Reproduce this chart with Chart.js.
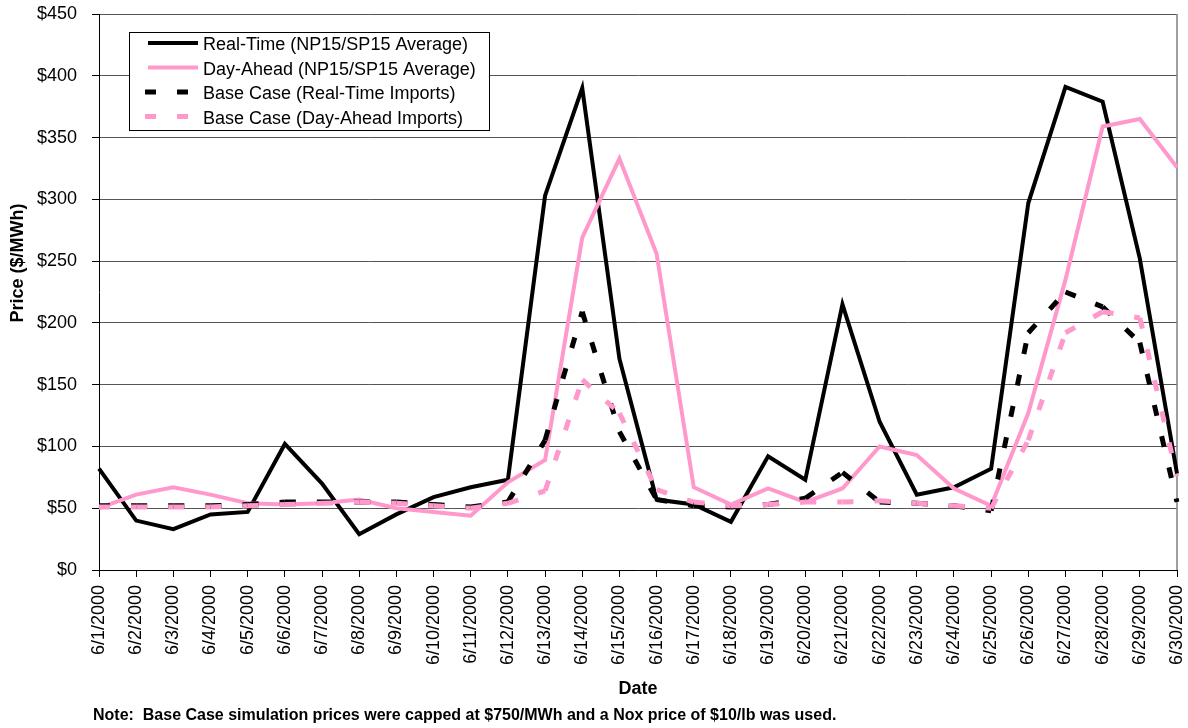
<!DOCTYPE html>
<html>
<head>
<meta charset="utf-8">
<title>Real-Time and Day-Ahead Prices, June 2000</title>
<script src="https://cdn.jsdelivr.net/npm/chart.js@4.4.1/dist/chart.umd.min.js"></script>
<style>
  html, body { margin: 0; padding: 0; background: #fff; }
  #wrap { width: 1188px; height: 728px; }
</style>
</head>
<body>
<div id="wrap"><canvas id="priceChart" width="1188" height="728"></canvas></div>
<script>
// Categories (x axis)
const dates = ['6/1/2000', '6/2/2000', '6/3/2000', '6/4/2000', '6/5/2000', '6/6/2000',
    '6/7/2000', '6/8/2000', '6/9/2000', '6/10/2000', '6/11/2000', '6/12/2000',
    '6/13/2000', '6/14/2000', '6/15/2000', '6/16/2000', '6/17/2000', '6/18/2000',
    '6/19/2000', '6/20/2000', '6/21/2000', '6/22/2000', '6/23/2000', '6/24/2000',
    '6/25/2000', '6/26/2000', '6/27/2000', '6/28/2000', '6/29/2000', '6/30/2000'];

// Prices, $/MWh
const realTime = [82, 40, 33, 45, 47, 102, 70, 29, 45, 59, 67, 73, 303, 390, 171,
    57, 53, 39, 92, 73, 215, 120, 61, 67, 82, 297, 391, 379, 252, 78];
const dayAhead = [50, 61, 67, 61, 54, 53, 54, 57, 50, 47, 44, 71, 89, 269, 333,
    256, 67, 53, 66, 55, 66, 100, 93, 66, 52, 127, 235, 359, 365, 326];
const baseRealTime = [52, 52, 52, 52, 53, 55, 55, 55, 55, 53, 51, 55, 105, 209, 112,
    57, 52, 51, 53, 58, 79, 55, 54, 52, 48, 192, 225, 213, 184, 55];
const baseDayAhead = [51, 51, 51, 51, 52, 53, 54, 55, 54, 52, 50, 54, 64, 154, 127,
    65, 55, 52, 53, 55, 55, 56, 54, 52, 50, 105, 192, 209, 204, 76];

const seriesNames = ['Real-Time (NP15/SP15 Average)', 'Day-Ahead (NP15/SP15 Average)',
    'Base Case (Real-Time Imports)', 'Base Case (Day-Ahead Imports)'];

// Y axis range
const yMin = 0;
const yMax = 450;
const yStep = 50;

const yTitle = 'Price ($/MWh)';
const xTitle = 'Date';
const noteText = 'Note:  Base Case simulation prices were capped at $750/MWh and a Nox price of $10/lb was used.';

const PINK = '#ff99cc';
const FONT = "Arial, 'Liberation Sans', sans-serif";

Chart.defaults.font.family = FONT;
Chart.defaults.color = '#000';

// Excel restarts the dash pattern on every segment; alternating a tiny
// offset makes Chart.js stroke each segment on its own.
const restartDash = { borderDashOffset: ctx => (ctx.p0DataIndex % 2) * 0.001 };

// Legend box drawn inside the plot, like the original
const boxLegend = {
    id: 'boxLegend',
    afterDatasetsDraw(chart) {
        const ctx = chart.ctx;
        const left = chart.chartArea.left + 30;
        const top = chart.chartArea.top + 18;
        ctx.save();
        ctx.fillStyle = '#fff';
        ctx.fillRect(left, top, 360, 98);
        ctx.strokeStyle = '#000';
        ctx.lineWidth = 1;
        ctx.strokeRect(left + 0.5, top + 0.5, 360, 98);
        chart.data.datasets.forEach((ds, i) => {
            const y = top + 11 + i * 24.5;
            ctx.beginPath();
            ctx.strokeStyle = ds.borderColor;
            ctx.lineWidth = ds.borderWidth;
            ctx.setLineDash(ds.borderDash || []);
            ctx.moveTo(left + (ds.borderDash ? 16 : 19), y);
            ctx.lineTo(left + 69, y);
            ctx.stroke();
            ctx.setLineDash([]);
            ctx.fillStyle = '#000';
            ctx.font = '18px ' + FONT;
            ctx.textBaseline = 'middle';
            ctx.textAlign = 'left';
            ctx.fillText(ds.label, left + 74, y + 2.5);
        });
        ctx.restore();
    }
};

// Right plot border, y axis title and footnote
const frameAndNotes = {
    id: 'frameAndNotes',
    beforeDatasetsDraw(chart) {
        const {ctx, chartArea} = chart;
        ctx.save();
        ctx.strokeStyle = '#808080';
        ctx.lineWidth = 1.5;
        ctx.beginPath();
        ctx.moveTo(chartArea.right, chartArea.top);
        ctx.lineTo(chartArea.right, chartArea.bottom);
        ctx.stroke();
        ctx.restore();
    },
    afterDraw(chart) {
        const ctx = chart.ctx;
        ctx.save();
        ctx.fillStyle = '#000';
        ctx.font = 'bold 18px ' + FONT;
        ctx.textAlign = 'center';
        ctx.textBaseline = 'middle';
        ctx.translate(18, 263);
        ctx.rotate(-Math.PI / 2);
        ctx.fillText(yTitle, 0, 0);
        ctx.restore();

        ctx.save();
        ctx.fillStyle = '#000';
        ctx.font = 'bold 16px ' + FONT;
        ctx.textAlign = 'left';
        ctx.textBaseline = 'middle';
        ctx.fillText(noteText, 93, 716);
        ctx.restore();
    }
};

// Let layout.padding alone decide where the plot area sits
function noOverhang(scale) {
    scale.paddingLeft = 0;
    scale.paddingRight = 0;
    scale.paddingTop = 0;
    scale.paddingBottom = 0;
}

const ctx = document.getElementById('priceChart').getContext('2d');
const priceChart = new Chart(ctx, {
    type: 'line',
    data: {
        labels: dates,
        datasets: [{
            label: seriesNames[0],
            data: realTime,
            borderColor: '#000',
            borderWidth: 4,
            order: 4
        }, {
            label: seriesNames[1],
            data: dayAhead,
            borderColor: PINK,
            borderWidth: 4,
            order: 3
        }, {
            label: seriesNames[2],
            data: baseRealTime,
            borderColor: '#000',
            borderWidth: 5,
            borderDash: [11, 21],
            segment: restartDash,
            order: 2
        }, {
            label: seriesNames[3],
            data: baseDayAhead,
            borderColor: PINK,
            borderWidth: 5,
            borderDash: [11, 21],
            segment: restartDash,
            order: 1
        }]
    },
    options: {
        responsive: false,
        animation: false,
        devicePixelRatio: 1,
        layout: {
            padding: { top: 14, right: 11, bottom: 28, left: 0 }
        },
        elements: {
            point: { radius: 0, hoverRadius: 0 },
            line: { tension: 0, fill: false, borderCapStyle: 'butt', borderJoinStyle: 'miter' }
        },
        scales: {
            x: {
                offset: false,
                grid: { drawOnChartArea: false, tickLength: 7, color: '#000' },
                border: { color: '#000', width: 1 },
                ticks: {
                    autoSkip: false,
                    minRotation: 90,
                    maxRotation: 90,
                    padding: 8,
                    font: { size: 18 }
                },
                title: {
                    display: true,
                    text: xTitle,
                    font: { size: 18, weight: 'bold' },
                    padding: { top: 4, bottom: 0 }
                },
                afterFit(scale) {
                    scale.height = 130;
                    noOverhang(scale);
                }
            },
            y: {
                min: yMin,
                max: yMax,
                grid: { color: '#555', tickColor: '#000', tickLength: 7 },
                border: { color: '#000', width: 1 },
                ticks: {
                    stepSize: yStep,
                    padding: 15,
                    font: { size: 18 },
                    callback: value => '$' + value
                },
                afterFit(scale) {
                    scale.width = 99;
                    noOverhang(scale);
                }
            }
        },
        plugins: {
            legend: { display: false },
            tooltip: { enabled: false }
        }
    },
    plugins: [frameAndNotes, boxLegend]
});
</script>
</body>
</html>
